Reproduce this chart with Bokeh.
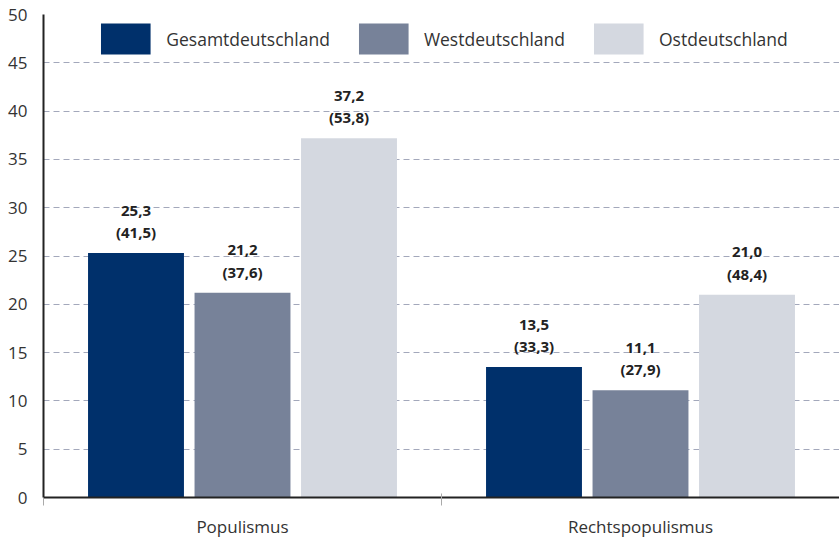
from bokeh.plotting import figure
from bokeh.models import ColumnDataSource, FixedTicker, Range1d, Legend, LegendItem
from bokeh.core.properties import value
from bokeh.embed import file_html
from bokeh.resources import INLINE

categories = ["Populismus", "Rechtspopulismus"]
series = ["Gesamtdeutschland", "Westdeutschland", "Ostdeutschland"]
gesamt = [25.3, 13.5]
west = [21.2, 11.1]
ost = [37.2, 21.0]
gesamt_paren = [41.5, 33.3]
west_paren = [37.6, 27.9]
ost_paren = [53.8, 48.4]
y_ticks = [0, 5, 10, 15, 20, 25, 30, 35, 40, 45, 50]

colors = ["#00306b", "#778299", "#d4d8e0"]
offsets = [-0.2676, 0.0, 0.2676]
bar_w = 0.241
FONT = "Open Sans"

def fmt(v):
    return f"{v:.1f}".replace(".", ",")

p = figure(width=839, height=540, output_backend="svg", toolbar_location=None,
           x_range=Range1d(0, 2), y_range=Range1d(0, 50),
           min_border_left=43, min_border_right=0, min_border_top=14, min_border_bottom=39)
p.outline_line_color = None
p.background_fill_color = "white"

renderers = []
for vals, parens, col, off, name in zip([gesamt, west, ost], [gesamt_paren, west_paren, ost_paren],
                                         colors, offsets, series):
    xs = [i + 0.5 + off for i in range(len(categories))]
    labels = [f"{fmt(v)}\n({fmt(pv)})" for v, pv in zip(vals, parens)]
    src = ColumnDataSource(dict(x=xs, top=vals, label=labels))
    r = p.vbar(x="x", top="top", width=bar_w, bottom=0, source=src, fill_color=col, line_color=None)
    renderers.append((name, r))
    p.text(x="x", y="top", text="label", source=src, text_align="center", text_baseline="bottom",
           y_offset=-11, text_font=value(FONT), text_font_style="bold", text_font_size="15px",
           text_color="#222222", text_line_height=1.12)

legend = Legend(items=[LegendItem(label=n, renderers=[r]) for n, r in renderers],
                orientation="horizontal", location="top_center",
                glyph_width=62, glyph_height=39, label_standoff=10, spacing=22,
                padding=5, margin=5, border_line_color=None, background_fill_alpha=1,
                label_text_font=FONT, label_text_font_size="17.5px", label_text_color="#333333")
p.add_layout(legend, "center")

# y axis
p.yaxis.ticker = FixedTicker(ticks=y_ticks)
p.yaxis.axis_line_color = "#222222"
p.yaxis.axis_line_width = 2
p.yaxis.major_tick_line_color = None
p.yaxis.minor_tick_line_color = None
p.yaxis.major_label_text_font = FONT
p.yaxis.major_label_text_font_size = "17px"
p.yaxis.major_label_text_color = "#333333"
p.yaxis.major_label_standoff = 10

# x axis
p.xaxis.ticker = FixedTicker(ticks=[0.5, 1.5], minor_ticks=[0, 1, 2])
p.xaxis.major_label_overrides = {0.5: categories[0], 1.5: categories[1]}
p.xaxis.axis_line_color = "#222222"
p.xaxis.axis_line_width = 2
p.xaxis.major_tick_line_color = None
p.xaxis.major_tick_out = 0
p.xaxis.major_tick_in = 0
p.xaxis.minor_tick_line_color = "#aaaaaa"
p.xaxis.minor_tick_out = 8
p.xaxis.minor_tick_in = 4
p.xaxis.major_label_text_font = FONT
p.xaxis.major_label_text_font_size = "17px"
p.xaxis.major_label_text_color = "#333333"
p.xaxis.major_label_standoff = 9

p.xgrid.grid_line_color = None
p.ygrid.grid_line_color = "#a3a8bb"
p.ygrid.grid_line_dash = "6 4"
p.ygrid.grid_line_width = 1

open("out.html", "w").write(file_html(p, INLINE))
